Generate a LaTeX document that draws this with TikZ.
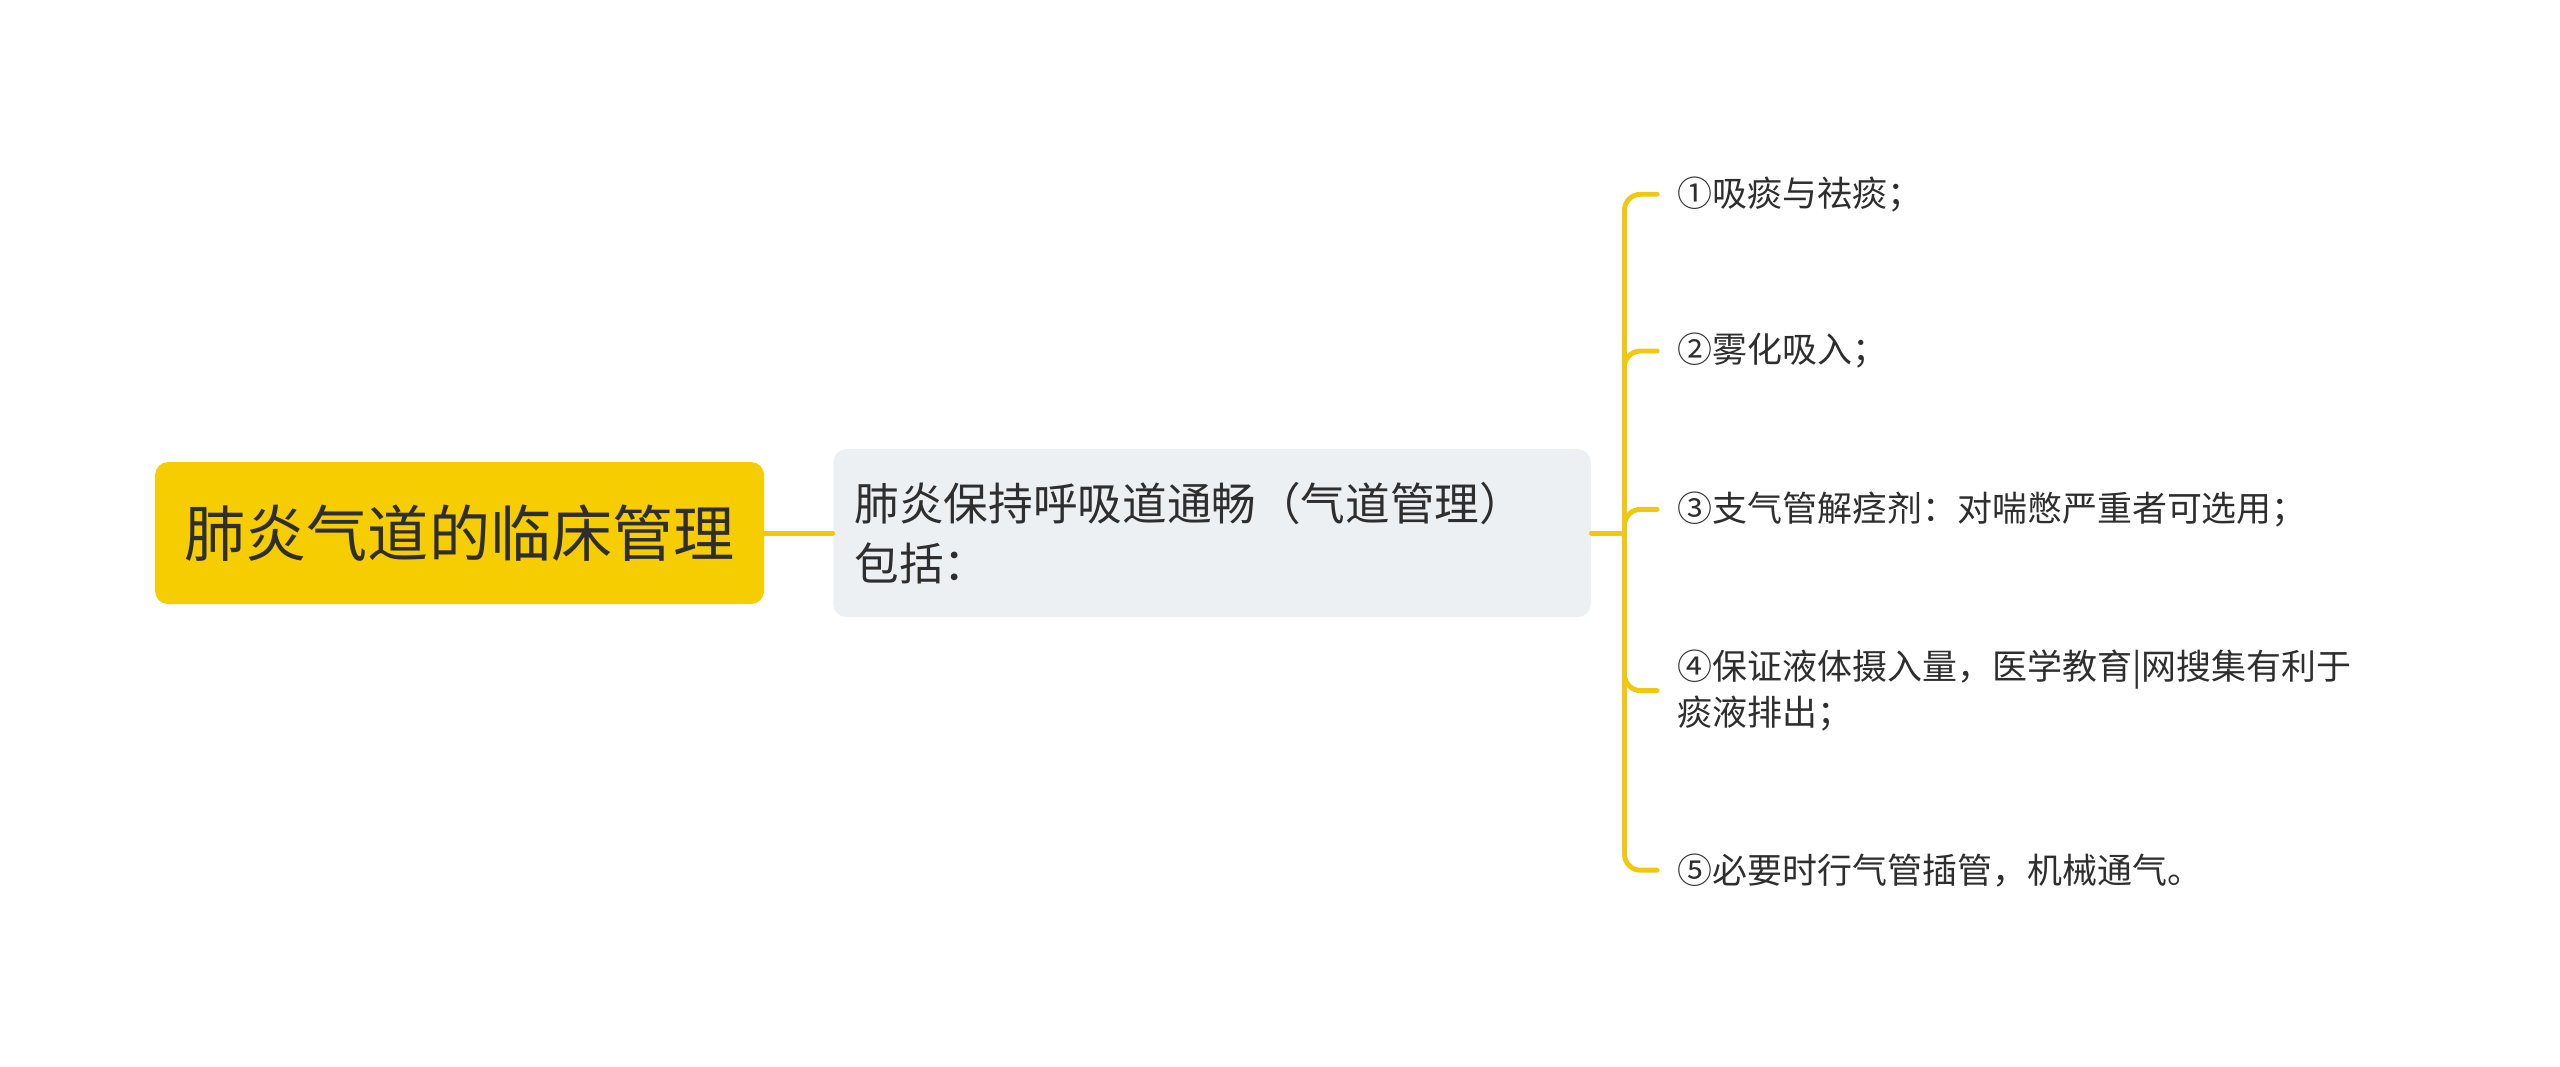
\documentclass[tikz,border=0pt]{standalone}
\usepackage{fontspec}
\newfontfamily\cjk{Noto Sans CJK SC}
\usepackage{tikz}
\usetikzlibrary{positioning}
\definecolor{rootyellow}{HTML}{F5CD00}
\definecolor{linkyellow}{HTML}{F0C810}
\definecolor{midgrey}{HTML}{EDF0F3}
\definecolor{txtgrey}{HTML}{2E2E2E}

\begin{document}
\begin{tikzpicture}[x=0.016327cm, y=-0.016327cm,
		link/.style={draw=linkyellow, line width=1.4pt, rounded corners=0.16cm, line cap=round},
		rootbox/.style={fill=rootyellow, rounded corners=0.13cm, minimum width=6.09cm, minimum height=1.42cm,
			font=\cjk\fontsize{17.4pt}{21pt}\selectfont, text=txtgrey},
		midbox/.style={fill=midgrey, rounded corners=0.13cm, minimum height=1.68cm, text width=7.15cm,
			inner xsep=0.212cm, align=left, font=\cjk\fontsize{12.7pt}{17.2pt}\selectfont, text=txtgrey},
		leaf/.style={anchor=west, inner xsep=0.196cm, align=left, font=\cjk\fontsize{9.95pt}{12.9pt}\selectfont, text=txtgrey}]
			\useasboundingbox (0,0) rectangle (1568,653);
			\node[rootbox] (root) at (281.5,326.5) {肺炎气道的临床管理};
			\node[midbox, anchor=west] (mid) at (510,326.5) {肺炎保持呼吸道通畅（气道管理）\\包括：};
			\coordinate (fork) at (995,326.5);
			\node[leaf] (c1) at (1015,119) {①吸痰与祛痰；};
			\node[leaf] (c2) at (1015,215) {②雾化吸入；};
			\node[leaf] (c3) at (1015,312) {③支气管解痉剂：对喘憋严重者可选用；};
			\node[leaf] (c4) at (1015,423) {④保证液体摄入量，医学教育|网搜集有利于\\痰液排出；};
			\node[leaf] (c5) at (1015,533) {⑤必要时行气管插管，机械通气。};
			\draw[link] (root.east) -- (mid.west);
			\draw[link] (mid.east) -- (fork);
			\foreach \c in {c1,c2,c3,c4,c5}
				\draw[link] (fork) |- (\c.west);
		\end{tikzpicture}
\end{document}
